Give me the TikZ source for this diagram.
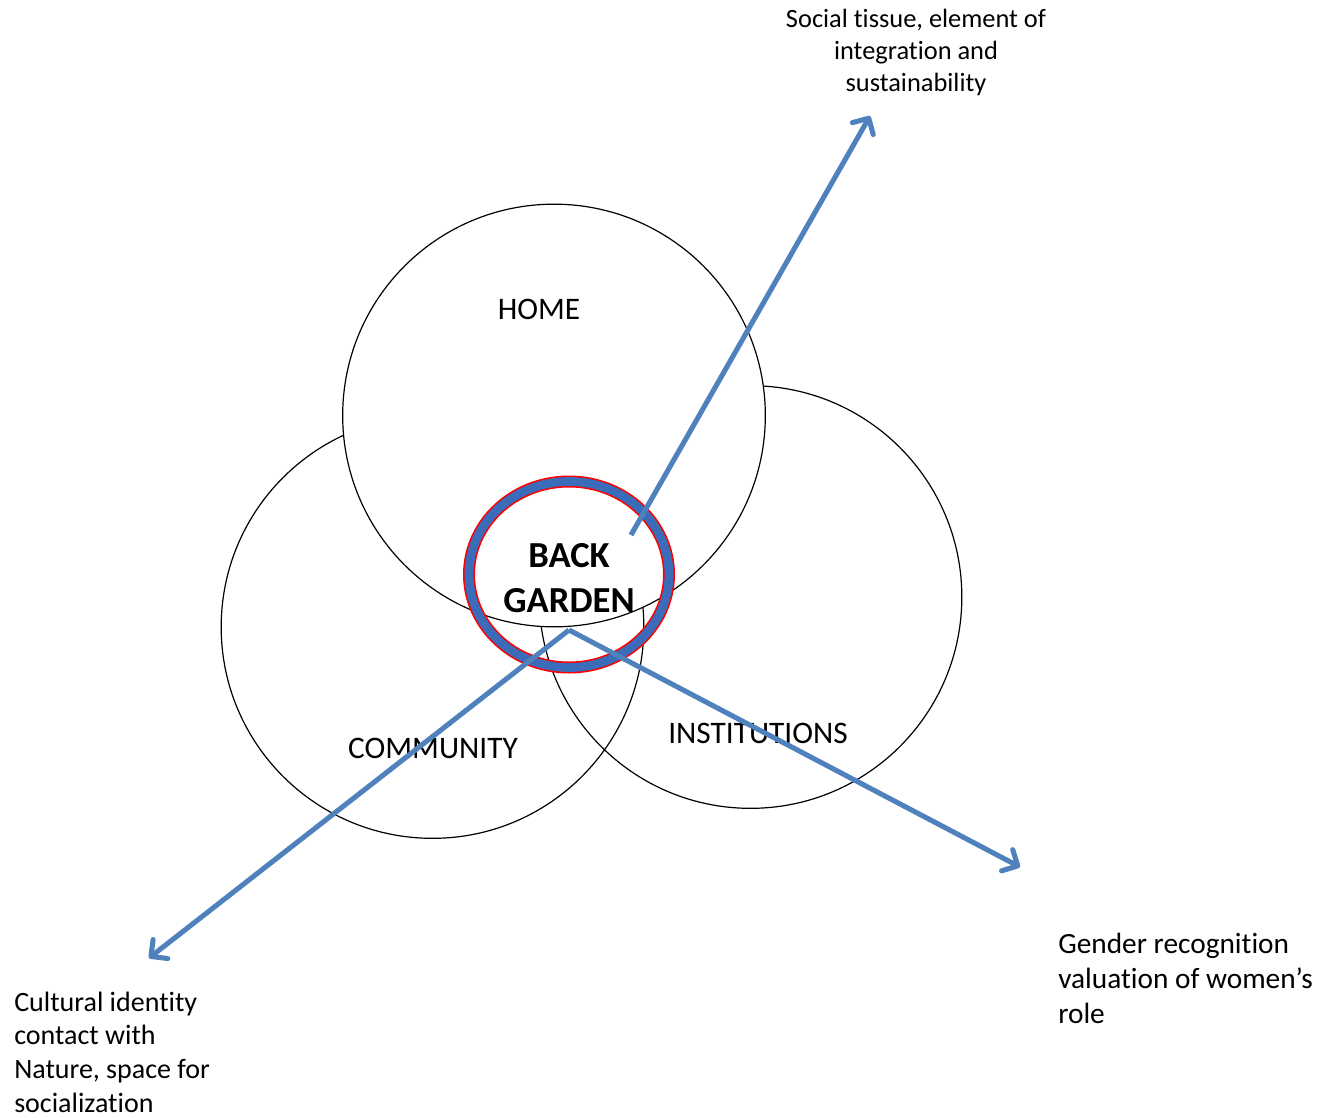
\documentclass[tikz,border=0pt]{standalone}
\usepackage{fontspec}
\setmainfont{Carlito}[Ligatures={NoCommon,NoContextual}]
\usetikzlibrary{arrows.meta}
\usetikzlibrary{shapes.geometric}
\definecolor{arrowblue}{RGB}{79,129,189}
\definecolor{ringblue}{RGB}{58,108,185}

\begin{document}
\begin{tikzpicture}[
		x=0.75pt, y=-0.75pt,
		thin,
		>={Straight Barb[length=9pt, width=18pt, round]},
		sphere/.style={circle, draw=black, line width=0.9pt, minimum size=317pt, inner sep=0pt},
		sphere label/.style={font=\fontsize{23.5}{28}\selectfont},
		role/.style={inner sep=0pt, align=left, anchor=west},
		link/.style={->, draw=arrowblue, line width=3.8pt},
	]

		\useasboundingbox (0, 0) rectangle (1334, 1117);

		% spheres
		\node[sphere] (community) at (432.5, 627) {};
		\node[sphere] (institutions) at (750.5, 597) {};
		\node[sphere, fill=white] (home) at (554, 415.5) {};

		\node[sphere label] (homelabel) at (539, 309) {HOME};
		\node[sphere label] (communitylabel) at (433, 748) {COMMUNITY};
		\node[sphere label] (institutionslabel) at (758, 733) {INSTITUTIONS};

		% back garden
		\node[ellipse, draw=red, line width=9pt, minimum width=150pt, minimum height=139.5pt, inner sep=0pt] (garden) at (569, 574.5) {};
		\node[ellipse, draw=ringblue, line width=6.6pt, minimum width=150pt, minimum height=139.5pt, inner sep=0pt] (gardenring) at (569, 574.5) {};
		\node[align=center, font=\bfseries\fontsize{27.5}{33.5}\selectfont] (gardenlabel) at (569, 578) {BACK\\GARDEN};

		% roles
		\node[align=center, inner sep=0pt, font=\fontsize{19.8}{24}\selectfont] (social) at (916, 52) {Social tissue, element of\\integration and\\sustainability};
		\node[role, font=\fontsize{21}{25.2}\selectfont] (cultural) at (14, 1052) {Cultural identity\\contact with\\Nature, space for\\socialization};
		\node[role, font=\fontsize{22}{26.3}\selectfont] (gender) at (1058, 978) {Gender recognition\\valuation of women’s\\role};

		\coordinate (s1) at (631, 535);
		\coordinate (s2) at (569, 630);
		\coordinate (t1) at (870, 116);
		\coordinate (t2) at (149, 958);
		\coordinate (t3) at (1020, 867);

		\path [link] (s1) -- (t1);
		\path [link] (s2) -- (t2);
		\path [link] (s2) -- (t3);
	\end{tikzpicture}
\end{document}
